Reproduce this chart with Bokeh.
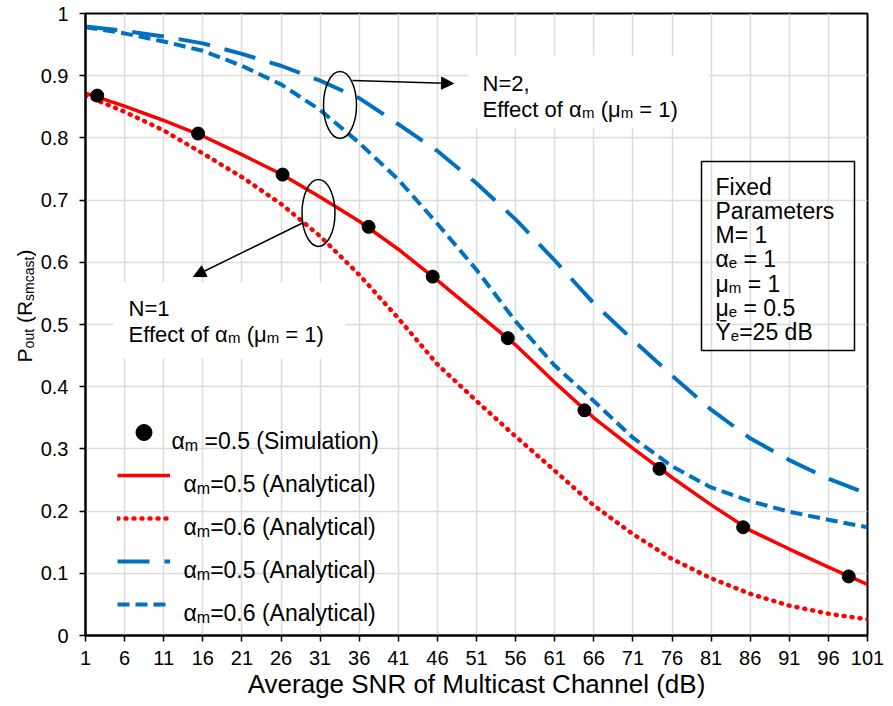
import math
from bokeh.plotting import figure
from bokeh.layouts import row
from bokeh.models import (Label, Legend, LegendItem, BoxAnnotation, Arrow, NormalHead,
                          FixedTicker, Range1d)
from bokeh.embed import file_html
from bokeh.resources import INLINE

# ---------------- data ----------------
snr_db = [1, 6, 11, 16, 21, 26, 31, 36, 41, 46, 51, 56, 61, 66, 71, 76, 81, 86, 91, 96, 101]
pout_n1_am05 = [0.872, 0.851, 0.828, 0.803, 0.773, 0.742, 0.705, 0.666, 0.621, 0.571, 0.519,
                0.467, 0.407, 0.350, 0.301, 0.254, 0.210, 0.169, 0.139, 0.110, 0.082]
pout_n1_am06 = [0.868, 0.842, 0.812, 0.775, 0.737, 0.694, 0.642, 0.580, 0.510, 0.436, 0.377,
                0.320, 0.265, 0.209, 0.163, 0.123, 0.092, 0.067, 0.048, 0.035, 0.026]
pout_n2_am05 = [0.979, 0.972, 0.963, 0.952, 0.935, 0.916, 0.892, 0.864, 0.822, 0.779, 0.727,
                0.669, 0.603, 0.534, 0.475, 0.418, 0.363, 0.317, 0.282, 0.252, 0.228]
pout_n2_am06 = [0.978, 0.968, 0.955, 0.940, 0.916, 0.886, 0.845, 0.792, 0.733, 0.662, 0.588,
                0.505, 0.434, 0.377, 0.318, 0.272, 0.238, 0.216, 0.199, 0.186, 0.174]
sim_snr_db = [2.5, 15.4, 26.2, 37.2, 45.4, 55.0, 64.8, 74.4, 85.1, 98.6]
sim_pout_n1_am05 = [0.868, 0.807, 0.741, 0.657, 0.577, 0.478, 0.362, 0.268, 0.174, 0.095]

x_ticks = [1, 6, 11, 16, 21, 26, 31, 36, 41, 46, 51, 56, 61, 66, 71, 76, 81, 86, 91, 96, 101]
y_ticks = [0, 0.1, 0.2, 0.3, 0.4, 0.5, 0.6, 0.7, 0.8, 0.9, 1]
y_tick_labels = ["0", "0.1", "0.2", "0.3", "0.4", "0.5", "0.6", "0.7", "0.8", "0.9", "1"]

x_title = "Average SNR of Multicast Channel (dB)"

# ---------------- layout ----------------
W, H = 893, 706
LW = 36                      # width of the strip that carries the y-axis title
FL, FR, FT, FB = 85, 867, 13, 635
FONT = "Liberation Sans"
RED = "#ff0000"
BLUE = "#0070c0"


def X(px):
    return 1 + (px - FL) * 100.0 / (FR - FL)


def Y(py):
    return (FB - py) / float(FB - FT)


ARIAL = {' ': 569, '(': 682, ')': 682, ',': 569, '.': 569, '=': 1196,
         'A': 1366, 'B': 1366, 'E': 1366, 'F': 1251, 'M': 1706, 'N': 1479, 'P': 1366,
         'R': 1479, 'S': 1366, 'Y': 1366, 'Ȳ': 1366,
         'a': 1139, 'c': 1024, 'd': 1139, 'e': 1139, 'f': 569, 'i': 455, 'l': 455,
         'm': 1706, 'n': 1139, 'o': 1139, 'r': 682, 's': 1024, 't': 569, 'u': 1139,
         'x': 1024, 'y': 1024, 'α': 1185, 'μ': 1180}


def tw(s, size):
    return sum(ARIAL.get(c, 1139) for c in s) / 2048.0 * size


p = figure(width=W - LW, height=H, x_range=Range1d(1, 101), y_range=Range1d(0, 1),
           output_backend="svg", toolbar_location=None,
           min_border_left=FL - LW, min_border_right=W - FR, min_border_top=FT,
           min_border_bottom=H - FB)
p.background_fill_color = "white"
p.border_fill_color = "white"
p.outline_line_color = "black"
p.outline_line_width = 2

p.xaxis.ticker = FixedTicker(ticks=x_ticks)
p.yaxis.ticker = FixedTicker(ticks=y_ticks)
p.xgrid.ticker = FixedTicker(ticks=x_ticks)
p.ygrid.ticker = FixedTicker(ticks=y_ticks)
p.yaxis.major_label_overrides = dict(zip(y_ticks, y_tick_labels))
for g in (p.xgrid, p.ygrid):
    g.grid_line_color = "#dcdcdc"
    g.grid_line_width = 1.5
for ax in (p.xaxis, p.yaxis):
    ax.axis_line_color = "black"
    ax.axis_line_width = 2
    ax.major_tick_line_color = "black"
    ax.major_tick_line_width = 1.5
    ax.major_tick_out = 6
    ax.major_tick_in = 0
    ax.minor_tick_out = 0
    ax.minor_tick_in = 0
    ax.major_label_text_font = FONT
    ax.major_label_text_font_size = "20px"
    ax.major_label_text_color = "black"
p.yaxis.major_label_standoff = 11
p.xaxis.major_label_standoff = 9
p.xaxis.axis_label = x_title
p.xaxis.axis_label_text_font = FONT
p.xaxis.axis_label_text_font_size = "26px"
p.xaxis.axis_label_text_font_style = "normal"
p.xaxis.axis_label_text_color = "black"
p.xaxis.axis_label_standoff = 1

# white boxes behind the annotation texts
p.add_layout(BoxAnnotation(left=X(467), right=X(708), top=Y(55), bottom=Y(128),
                           fill_color="white", fill_alpha=1, line_alpha=0, level="underlay"))
p.add_layout(BoxAnnotation(left=X(113), right=X(345), top=Y(282), bottom=Y(358),
                           fill_color="white", fill_alpha=1, line_alpha=0, level="underlay"))

# ---------------- curves ----------------
r_n2_06 = p.line(snr_db, pout_n2_am06, line_color=BLUE, line_width=4, line_dash="12 6")
r_n2_05 = p.line(snr_db, pout_n2_am05, line_color=BLUE, line_width=4, line_dash="32 15")
r_n1_06 = p.line(snr_db, pout_n1_am06, line_color=RED, line_width=4.5, line_dash="1 7",
                 line_cap="round")
r_n1_05 = p.line(snr_db, pout_n1_am05, line_color=RED, line_width=3.5)
r_sim = p.scatter(sim_snr_db, sim_pout_n1_am05, size=13, color="black")

# ellipses + arrows
p.ellipse(x=[X(339.5), X(318)], y=[Y(104.5), Y(212.5)], width=33, height=67,
          width_units="screen", height_units="screen", fill_alpha=0,
          line_color="black", line_width=1.5)
p.add_layout(Arrow(end=NormalHead(size=12, fill_color="black", line_color="black"),
                   x_start=X(352), y_start=Y(80), x_end=X(453), y_end=Y(83),
                   line_color="black", line_width=1.5))
p.add_layout(Arrow(end=NormalHead(size=12, fill_color="black", line_color="black"),
                   x_start=X(303), y_start=Y(222), x_end=X(193), y_end=Y(276),
                   line_color="black", line_width=1.5))

# fixed parameters box
p.add_layout(BoxAnnotation(left=X(701), right=X(854), top=Y(161), bottom=Y(350),
                           fill_alpha=0, line_color="black", line_alpha=1, line_width=1.5))


# ---------------- text helpers ----------------
def add_text(fig, x, y, text, size, x_off=0.0, y_off=0.0, angle=0.0):
    fig.add_layout(Label(x=x, y=y, text=text, x_offset=x_off, y_offset=y_off, angle=angle,
                         text_font=FONT, text_font_size="%gpx" % size, text_color="black",
                         text_baseline="alphabetic", text_align="left"))


def rich(fig, x, y, parts, rotate=False):
    adv = 0.0
    for text, size, drop in parts:
        stripped = text.lstrip(" ")
        lead = tw(text[:len(text) - len(stripped)], size)
        t = stripped.rstrip(" ")
        if t:
            if rotate:
                add_text(fig, x, y, t, size, x_off=drop, y_off=adv + lead, angle=math.pi / 2)
            else:
                add_text(fig, x, y, t, size, x_off=adv + lead, y_off=-drop)
        adv += tw(text, size)


def prich(px, py, parts):
    rich(p, X(px), Y(py), parts)


B, S, D = 22, 15, 4
# N=2 annotation
prich(482, 83, [("N=2,", B, 0)])
prich(482, 109, [("Effect of α", B, 0), ("m", S, 3), (" (μ", B, 0), ("m", S, 3), (" = 1)", B, 0)])
# N=1 annotation
prich(128, 308, [("N=1", B, 0)])
prich(128, 334, [("Effect of α", B, 0), ("m", S, 3), (" (μ", B, 0), ("m", S, 3), (" = 1)", B, 0)])

# fixed parameters
FB_ = 23
fp_lines = [
    [("Fixed", FB_, 0)],
    [("Parameters", FB_, 0)],
    [("M= 1", FB_, 0)],
    [("α", FB_, 0), ("e", S, D), (" = 1", FB_, 0)],
    [("μ", FB_, 0), ("m", S, D), (" = 1", FB_, 0)],
    [("μ", FB_, 0), ("e", S, D), (" = 0.5", FB_, 0)],
    [("Ȳ", FB_, 0), ("e", S, D), ("=25 dB", FB_, 0)],
]
for i, parts in enumerate(fp_lines):
    prich(715, 186 + 24.3 * i, parts)

# ---------------- legend ----------------
legend = Legend(items=[LegendItem(label=" ", renderers=[r]) for r in
                       (r_sim, r_n1_05, r_n1_06, r_n2_05, r_n2_06)],
                location=(117 - FL, FB - 624), orientation="vertical",
                glyph_width=53, glyph_height=40, label_height=40, label_width=1,
                label_standoff=0, padding=0, spacing=3, margin=0,
                background_fill_alpha=0, border_line_alpha=0,
                label_text_font_size="1px")
p.add_layout(legend)

LB, LS = 23, 16
leg_rows = [
    (171, [("α", LB, 0), ("m", LS, 5), (" =0.5 (Simulation)", LB, 0)]),
    (183, [("α", LB, 0), ("m", LS, 5), ("=0.5 (Analytical)", LB, 0)]),
    (183, [("α", LB, 0), ("m", LS, 5), ("=0.6 (Analytical)", LB, 0)]),
    (183, [("α", LB, 0), ("m", LS, 5), ("=0.5 (Analytical)", LB, 0)]),
    (183, [("α", LB, 0), ("m", LS, 5), ("=0.6 (Analytical)", LB, 0)]),
]
for i, (lx, parts) in enumerate(leg_rows):
    prich(lx, 432 + 43 * i + 8, parts)

# ---------------- y-axis title strip (rotated, with subscripts) ----------------
yl = figure(width=LW, height=H, x_range=Range1d(0, LW), y_range=Range1d(H, 0),
            output_backend="svg", toolbar_location=None, x_axis_type=None, y_axis_type=None,
            min_border=0, min_border_left=0, min_border_right=0, min_border_top=0,
            min_border_bottom=0)
yl.outline_line_color = None
yl.xgrid.visible = False
yl.ygrid.visible = False
yl.background_fill_color = "white"
yl.border_fill_color = "white"
rich(yl, 23.5, 396, [("P", 21, 0), ("out", 14, 5), (" (R", 21, 0), ("smcast", 14, 5), (")", 21, 0)],
     rotate=True)

layout = row(yl, p)
open("out.html", "w").write(file_html(layout, INLINE))
